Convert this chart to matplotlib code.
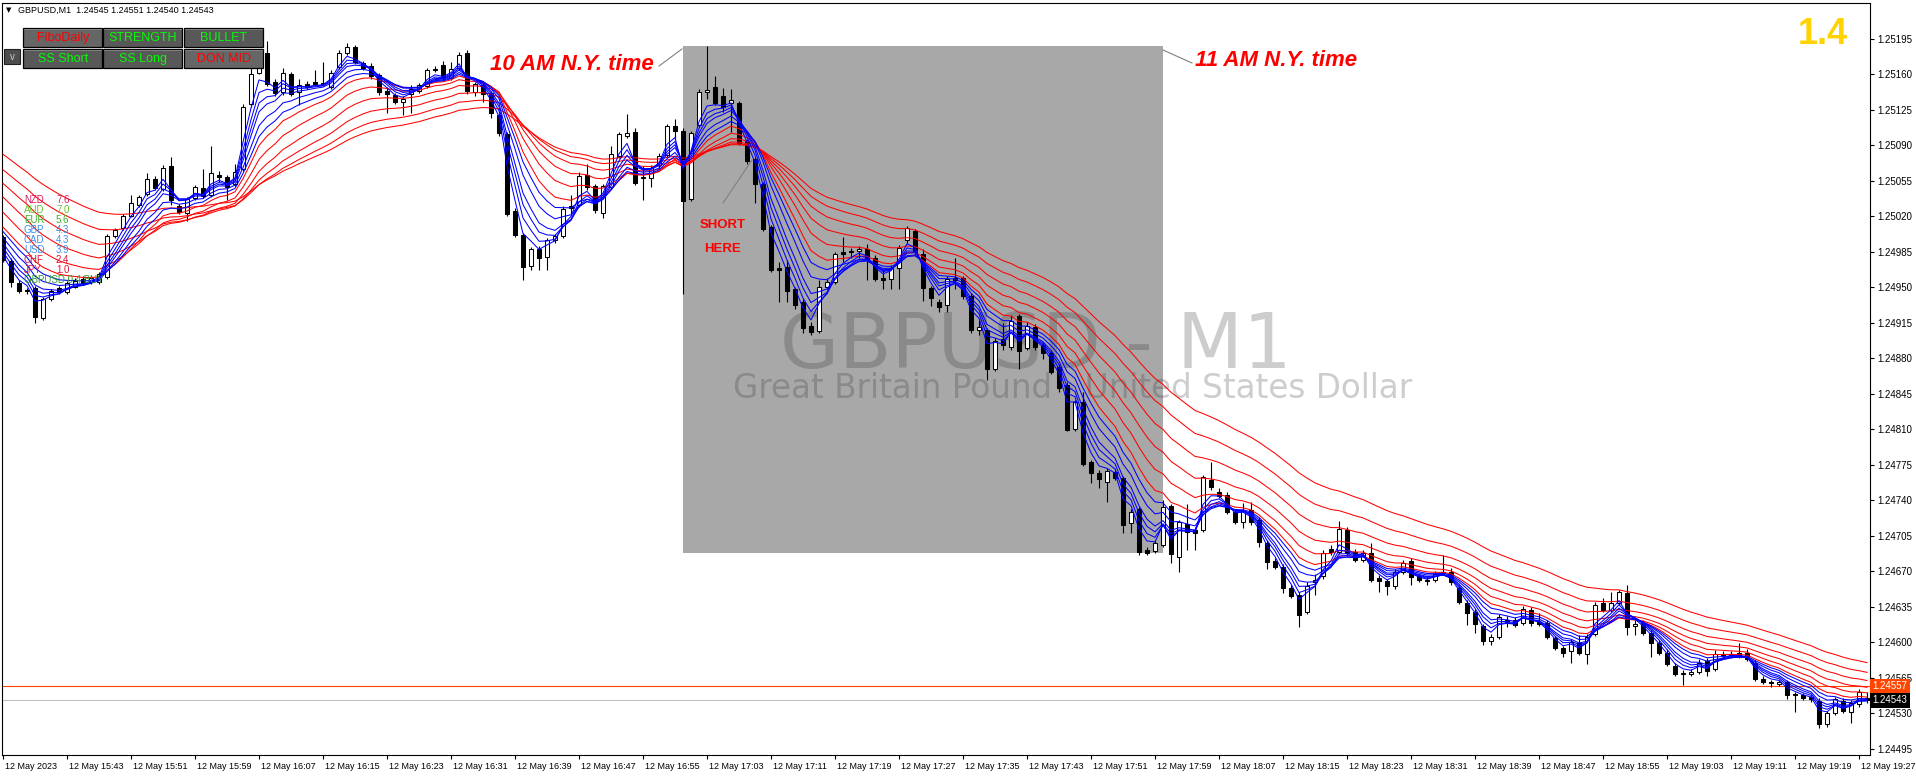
import numpy as np
import matplotlib.pyplot as plt
import matplotlib.transforms as mtransforms
from matplotlib.patches import Rectangle

# GBPUSD M1, 12 May 2023, bars from 15:35 to 19:28 (one per minute)
opens = [
    1.24999, 1.24976, 1.24954, 1.24947, 1.24949, 1.24920, 1.24938, 1.24949, 1.24945, 1.24950,
    1.24958, 1.24955, 1.24955, 1.24960, 1.25000, 1.25008, 1.25020, 1.25031, 1.25042, 1.25057,
    1.25047, 1.25069, 1.25030, 1.25023, 1.25038, 1.25048, 1.25041, 1.25061, 1.25059, 1.25052,
    1.25066, 1.25130, 1.25161, 1.25181, 1.25152, 1.25142, 1.25160, 1.25142, 1.25150, 1.25152,
    1.25151, 1.25147, 1.25167, 1.25181, 1.25187, 1.25171, 1.25168, 1.25159, 1.25143, 1.25139,
    1.25132, 1.25140, 1.25143, 1.25148, 1.25165, 1.25169, 1.25156, 1.25166, 1.25181, 1.25142,
    1.25149, 1.25141, 1.25120, 1.25101, 1.25025, 1.25001, 1.24971, 1.24988, 1.24980, 1.24996,
    1.25000, 1.25030, 1.25031, 1.25061, 1.25050, 1.25023, 1.25049, 1.25079, 1.25099, 1.25103,
    1.25059, 1.25058, 1.25070, 1.25080, 1.25109, 1.25104, 1.25037, 1.25110, 1.25142, 1.25147,
    1.25138, 1.25131, 1.25131, 1.25094, 1.25076, 1.25052, 1.25009, 1.24969, 1.24970, 1.24948,
    1.24935, 1.24912, 1.24907, 1.24950, 1.24955, 1.24985, 1.24986, 1.24986, 1.24988, 1.24979,
    1.24959, 1.24958, 1.24969, 1.24996, 1.25005, 1.24983, 1.24949, 1.24935, 1.24932, 1.24959,
    1.24959, 1.24941, 1.24908, 1.24908, 1.24869, 1.24899, 1.24891, 1.24922, 1.24890, 1.24911,
    1.24893, 1.24885, 1.24871, 1.24854, 1.24810, 1.24837, 1.24778, 1.24767, 1.24758, 1.24768,
    1.24762, 1.24718, 1.24731, 1.24691, 1.24690, 1.24696, 1.24734, 1.24684, 1.24717, 1.24711,
    1.24711, 1.24760, 1.24748, 1.24745, 1.24728, 1.24719, 1.24730, 1.24721, 1.24698, 1.24680,
    1.24674, 1.24654, 1.24647, 1.24630, 1.24659, 1.24665, 1.24692, 1.24689, 1.24711, 1.24689,
    1.24681, 1.24688, 1.24663, 1.24660, 1.24656, 1.24669, 1.24680, 1.24665, 1.24661, 1.24661,
    1.24668, 1.24669, 1.24654, 1.24639, 1.24630, 1.24616, 1.24601, 1.24605, 1.24622, 1.24622,
    1.24619, 1.24632, 1.24620, 1.24619, 1.24604, 1.24594, 1.24591, 1.24599, 1.24589, 1.24608,
    1.24639, 1.24632, 1.24639, 1.24649, 1.24616, 1.24619, 1.24609, 1.24599, 1.24590, 1.24577,
    1.24570, 1.24569, 1.24571, 1.24582, 1.24574, 1.24589, 1.24588, 1.24590, 1.24590, 1.24580,
    1.24564, 1.24561, 1.24559, 1.24561, 1.24549, 1.24548, 1.24546, 1.24542, 1.24520, 1.24530,
    1.24542, 1.24531, 1.24539, 1.24545,
]
highs = [
    1.25001, 1.24979, 1.24957, 1.24949, 1.24951, 1.24940, 1.24948, 1.24951, 1.24956, 1.24959,
    1.24961, 1.24962, 1.24965, 1.25002, 1.25008, 1.25022, 1.25041, 1.25041, 1.25062, 1.25060,
    1.25070, 1.25078, 1.25032, 1.25039, 1.25051, 1.25066, 1.25089, 1.25064, 1.25061, 1.25071,
    1.25130, 1.25167, 1.25184, 1.25193, 1.25155, 1.25166, 1.25162, 1.25155, 1.25153, 1.25164,
    1.25172, 1.25164, 1.25184, 1.25191, 1.25189, 1.25173, 1.25171, 1.25161, 1.25147, 1.25141,
    1.25138, 1.25149, 1.25151, 1.25166, 1.25168, 1.25173, 1.25172, 1.25182, 1.25184, 1.25152,
    1.25151, 1.25143, 1.25122, 1.25103, 1.25028, 1.25003, 1.24990, 1.24991, 1.24998, 1.25002,
    1.25030, 1.25041, 1.25063, 1.25071, 1.25052, 1.25052, 1.25089, 1.25103, 1.25121, 1.25107,
    1.25069, 1.25070, 1.25082, 1.25111, 1.25116, 1.25107, 1.25104, 1.25145, 1.25188, 1.25158,
    1.25146, 1.25145, 1.25133, 1.25096, 1.25078, 1.25054, 1.25011, 1.24975, 1.24977, 1.24950,
    1.24938, 1.24916, 1.24957, 1.24959, 1.24985, 1.24999, 1.24989, 1.24991, 1.24993, 1.24982,
    1.24967, 1.24972, 1.24992, 1.25010, 1.25007, 1.24988, 1.24951, 1.24938, 1.24961, 1.24979,
    1.24961, 1.24944, 1.24918, 1.24910, 1.24900, 1.24915, 1.24923, 1.24924, 1.24916, 1.24914,
    1.24896, 1.24888, 1.24873, 1.24857, 1.24839, 1.24847, 1.24780, 1.24770, 1.24772, 1.24771,
    1.24764, 1.24731, 1.24733, 1.24694, 1.24701, 1.24740, 1.24736, 1.24721, 1.24736, 1.24714,
    1.24765, 1.24778, 1.24752, 1.24748, 1.24731, 1.24737, 1.24738, 1.24724, 1.24701, 1.24683,
    1.24677, 1.24657, 1.24650, 1.24659, 1.24667, 1.24691, 1.24696, 1.24720, 1.24714, 1.24692,
    1.24691, 1.24698, 1.24666, 1.24662, 1.24672, 1.24681, 1.24683, 1.24667, 1.24664, 1.24670,
    1.24686, 1.24673, 1.24657, 1.24642, 1.24633, 1.24618, 1.24608, 1.24628, 1.24626, 1.24625,
    1.24636, 1.24635, 1.24629, 1.24622, 1.24606, 1.24596, 1.24603, 1.24607, 1.24608, 1.24640,
    1.24644, 1.24650, 1.24652, 1.24657, 1.24622, 1.24622, 1.24612, 1.24602, 1.24593, 1.24580,
    1.24573, 1.24574, 1.24584, 1.24585, 1.24592, 1.24591, 1.24591, 1.24599, 1.24593, 1.24583,
    1.24567, 1.24563, 1.24563, 1.24563, 1.24551, 1.24550, 1.24548, 1.24545, 1.24532, 1.24546,
    1.24545, 1.24543, 1.24554, 1.24551,
]
lows = [
    1.24975, 1.24950, 1.24944, 1.24943, 1.24915, 1.24918, 1.24936, 1.24943, 1.24943, 1.24949,
    1.24952, 1.24953, 1.24953, 1.24958, 1.24998, 1.25006, 1.25019, 1.25029, 1.25040, 1.25046,
    1.25045, 1.25031, 1.25022, 1.25015, 1.25036, 1.25038, 1.25039, 1.25054, 1.25036, 1.25050,
    1.25064, 1.25128, 1.25160, 1.25148, 1.25138, 1.25139, 1.25138, 1.25129, 1.25145, 1.25148,
    1.25148, 1.25145, 1.25165, 1.25179, 1.25170, 1.25164, 1.25155, 1.25139, 1.25122, 1.25130,
    1.25120, 1.25122, 1.25141, 1.25146, 1.25162, 1.25154, 1.25154, 1.25164, 1.25140, 1.25138,
    1.25132, 1.25117, 1.25099, 1.25020, 1.24999, 1.24957, 1.24967, 1.24967, 1.24967, 1.24994,
    1.24998, 1.25021, 1.25029, 1.25046, 1.25023, 1.25018, 1.25047, 1.25077, 1.25097, 1.25051,
    1.25036, 1.25049, 1.25066, 1.25078, 1.25095, 1.24943, 1.25035, 1.25108, 1.25135, 1.25129,
    1.25123, 1.25103, 1.25090, 1.25071, 1.25033, 1.25005, 1.24965, 1.24935, 1.24935, 1.24928,
    1.24905, 1.24903, 1.24905, 1.24948, 1.24953, 1.24975, 1.24979, 1.24979, 1.24957, 1.24956,
    1.24948, 1.24948, 1.24948, 1.24994, 1.24983, 1.24936, 1.24931, 1.24926, 1.24926, 1.24948,
    1.24938, 1.24905, 1.24903, 1.24859, 1.24867, 1.24888, 1.24888, 1.24869, 1.24888, 1.24888,
    1.24879, 1.24864, 1.24847, 1.24808, 1.24808, 1.24774, 1.24757, 1.24752, 1.24738, 1.24760,
    1.24708, 1.24708, 1.24686, 1.24686, 1.24688, 1.24694, 1.24678, 1.24669, 1.24691, 1.24691,
    1.24709, 1.24750, 1.24742, 1.24726, 1.24717, 1.24713, 1.24716, 1.24694, 1.24672, 1.24672,
    1.24649, 1.24644, 1.24615, 1.24628, 1.24647, 1.24662, 1.24686, 1.24687, 1.24685, 1.24679,
    1.24679, 1.24659, 1.24650, 1.24647, 1.24653, 1.24667, 1.24657, 1.24659, 1.24657, 1.24659,
    1.24667, 1.24657, 1.24638, 1.24617, 1.24609, 1.24597, 1.24597, 1.24603, 1.24615, 1.24615,
    1.24617, 1.24616, 1.24616, 1.24603, 1.24592, 1.24586, 1.24580, 1.24588, 1.24579, 1.24606,
    1.24630, 1.24630, 1.24637, 1.24607, 1.24607, 1.24607, 1.24586, 1.24588, 1.24577, 1.24567,
    1.24558, 1.24567, 1.24569, 1.24567, 1.24572, 1.24585, 1.24585, 1.24585, 1.24582, 1.24562,
    1.24559, 1.24556, 1.24557, 1.24544, 1.24531, 1.24543, 1.24541, 1.24516, 1.24517, 1.24528,
    1.24530, 1.24521, 1.24536, 1.24540,
]
closes = [
    1.24977, 1.24955, 1.24946, 1.24946, 1.24921, 1.24938, 1.24946, 1.24945, 1.24954, 1.24956,
    1.24954, 1.24959, 1.24963, 1.25000, 1.25006, 1.25020, 1.25033, 1.25039, 1.25057, 1.25048,
    1.25067, 1.25036, 1.25024, 1.25037, 1.25049, 1.25040, 1.25062, 1.25059, 1.25049, 1.25063,
    1.25128, 1.25160, 1.25182, 1.25150, 1.25141, 1.25161, 1.25140, 1.25149, 1.25147, 1.25150,
    1.25150, 1.25161, 1.25181, 1.25187, 1.25172, 1.25166, 1.25158, 1.25142, 1.25140, 1.25132,
    1.25135, 1.25145, 1.25149, 1.25164, 1.25164, 1.25156, 1.25165, 1.25179, 1.25143, 1.25150,
    1.25140, 1.25122, 1.25102, 1.25022, 1.25001, 1.24970, 1.24988, 1.24979, 1.24996, 1.25000,
    1.25027, 1.25028, 1.25060, 1.25049, 1.25026, 1.25050, 1.25081, 1.25101, 1.25102, 1.25053,
    1.25058, 1.25067, 1.25079, 1.25109, 1.25104, 1.25035, 1.25102, 1.25142, 1.25144, 1.25131,
    1.25128, 1.25134, 1.25092, 1.25074, 1.25052, 1.25007, 1.24967, 1.24967, 1.24946, 1.24932,
    1.24910, 1.24906, 1.24950, 1.24955, 1.24983, 1.24983, 1.24985, 1.24988, 1.24978, 1.24958,
    1.24957, 1.24969, 1.24989, 1.25008, 1.24985, 1.24949, 1.24939, 1.24930, 1.24958, 1.24957,
    1.24941, 1.24908, 1.24911, 1.24869, 1.24897, 1.24893, 1.24917, 1.24887, 1.24912, 1.24891,
    1.24885, 1.24866, 1.24851, 1.24809, 1.24837, 1.24776, 1.24767, 1.24761, 1.24769, 1.24762,
    1.24716, 1.24728, 1.24689, 1.24688, 1.24698, 1.24733, 1.24687, 1.24719, 1.24709, 1.24708,
    1.24763, 1.24753, 1.24744, 1.24728, 1.24719, 1.24729, 1.24719, 1.24699, 1.24679, 1.24674,
    1.24654, 1.24646, 1.24627, 1.24656, 1.24661, 1.24688, 1.24689, 1.24712, 1.24688, 1.24681,
    1.24688, 1.24661, 1.24660, 1.24656, 1.24669, 1.24678, 1.24664, 1.24661, 1.24660, 1.24667,
    1.24669, 1.24659, 1.24640, 1.24629, 1.24618, 1.24601, 1.24605, 1.24625, 1.24620, 1.24617,
    1.24633, 1.24619, 1.24618, 1.24605, 1.24594, 1.24590, 1.24600, 1.24590, 1.24605, 1.24637,
    1.24632, 1.24639, 1.24650, 1.24615, 1.24618, 1.24609, 1.24599, 1.24590, 1.24579, 1.24569,
    1.24569, 1.24571, 1.24580, 1.24572, 1.24589, 1.24588, 1.24589, 1.24587, 1.24584, 1.24564,
    1.24561, 1.24560, 1.24561, 1.24548, 1.24548, 1.24545, 1.24544, 1.24520, 1.24530, 1.24544,
    1.24532, 1.24540, 1.24551, 1.24543,
]

# moving average ribbons (periods and their values just before the first bar)
blue_periods = [3, 4, 5, 6, 8, 10]
blue_start = [1.24985, 1.24990, 1.24995, 1.25000, 1.25005, 1.25011]
red_periods = [12, 16, 21, 27, 34, 42]
red_start = [1.25015, 1.25030, 1.25045, 1.25058, 1.25071, 1.25086]

ask_price = 1.24557
bid_price = 1.24543

# highlighted session box: 17:00 .. 18:00 (bar 85 .. bar 145)
box_bars = [85, 145]
box_prices = [1.24688, 1.25188]

y_ticks = [1.24495, 1.24530, 1.24565, 1.24600, 1.24635, 1.24670, 1.24705, 1.24740, 1.24775,
           1.24810, 1.24845, 1.24880, 1.24915, 1.24950, 1.24985, 1.25020, 1.25055, 1.25090,
           1.25125, 1.25160, 1.25195]
x_tick_bars = list(range(0, 233, 8))
x_tick_labels = ['12 May 2023', '12 May 15:43', '12 May 15:51', '12 May 15:59', '12 May 16:07',
                 '12 May 16:15', '12 May 16:23', '12 May 16:31', '12 May 16:39', '12 May 16:47',
                 '12 May 16:55', '12 May 17:03', '12 May 17:11', '12 May 17:19', '12 May 17:27',
                 '12 May 17:35', '12 May 17:43', '12 May 17:51', '12 May 17:59', '12 May 18:07',
                 '12 May 18:15', '12 May 18:23', '12 May 18:31', '12 May 18:39', '12 May 18:47',
                 '12 May 18:55', '12 May 19:03', '12 May 19:11', '12 May 19:19', '12 May 19:27']

strength_names = ['NZD', 'AUD', 'EUR', 'GBP', 'CAD', 'USD', 'CHF', 'JPY']
strength_values = [7.6, 7.0, 5.6, 4.3, 4.3, 3.9, 2.4, 1.0]
strength_colors = ['#D81B60', '#66C22E', '#3FAF2A', '#3D8EE8', '#3D8EE8', '#3D8EE8', '#DC143C', '#DC143C']

buttons = [('FiboDaily', 'red', '#666666'), ('STRENGTH', 'lime', '#585858'), ('BULLET', 'lime', '#585858'),
           ('SS Short', 'lime', '#585858'), ('SS Long', 'lime', '#585858'), ('DON MID', 'red', '#666666')]

W, H = 1916, 776
L, R, T, B = 2, 1870, 3, 755

plt.rcParams['font.family'] = ['Liberation Sans', 'DejaVu Sans']

fig = plt.figure(figsize=(W / 100, H / 100), dpi=100, facecolor='white')
ax = fig.add_axes([L / W, 1 - B / H, (R - L) / W, (B - T) / H])

n = len(closes)
xs = np.arange(n)
o = np.array(opens)
c = np.array(closes)
ax.set_xlim(-0.125, 233.375)
ax.set_ylim(1.24489, 1.25230)


def px(x, y):
    return (x - L) / (R - L), (B - y) / (B - T)


# watermark, light on white, darker inside the grey box
wm = [('GBPUSD - M1', (1036, 347), 55),
      ('Great Britain Pound - United States Dollar', (1073, 389), 23.5)]
for txt, xy, fs in wm:
    ax.text(*px(*xy), txt, transform=ax.transAxes, ha='center', va='center',
            fontsize=fs, family='DejaVu Sans', color='#CDCDCD', zorder=0.5)

box = Rectangle((box_bars[0], box_prices[0]), box_bars[1] - box_bars[0], box_prices[1] - box_prices[0],
                facecolor='#A8A8A8', edgecolor='none', zorder=1)
ax.add_patch(box)
for txt, xy, fs in wm:
    t = ax.text(*px(*xy), txt, transform=ax.transAxes, ha='center', va='center',
                fontsize=fs, family='DejaVu Sans', color='#8A8A8A', zorder=1.5, clip_on=True)
    t.set_clip_path(box)

ax.axhline(ask_price, color='#FF4500', lw=0.8, zorder=2)
ax.axhline(bid_price, color='#C0C0C0', lw=0.8, zorder=2)

# candles
ax.vlines(xs, lows, highs, color='black', lw=0.8, zorder=3)
ax.bar(xs, np.abs(c - o), bottom=np.minimum(o, c), width=0.5,
       color=np.where(c >= o, 'white', 'black'), edgecolor='black', linewidth=0.75, zorder=4)


def ema(values, period, start):
    a = 2.0 / (period + 1)
    out = []
    v = start
    for val in values:
        v = v + a * (val - v)
        out.append(v)
    return out


for p, s in zip(red_periods, red_start):
    ax.plot(xs, ema(closes, p, s), color='#FF0000', lw=0.75, zorder=5)
for p, s in zip(blue_periods, blue_start):
    ax.plot(xs, ema(closes, p, s), color='#0000FF', lw=0.75, zorder=5)

# axes styling
for sp in ax.spines.values():
    sp.set_linewidth(0.8)
ax.yaxis.tick_right()
ax.set_yticks(y_ticks)
ax.set_yticklabels([f'{v:.5f}' for v in y_ticks])
ax.set_xticks(x_tick_bars)
ax.set_xticklabels(x_tick_labels)
ax.tick_params(axis='both', length=3, width=0.8, labelsize=6.5, colors='black')
ax.tick_params(axis='y', pad=2.5, labelsize=7)
ax.tick_params(axis='x', pad=2)
shift = mtransforms.ScaledTranslation(1.5 / 72, 0, fig.dpi_scale_trans)
for lbl in ax.get_xticklabels():
    lbl.set_horizontalalignment('left')
    lbl.set_transform(lbl.get_transform() + shift)

# current price labels on the right scale
blend = mtransforms.blended_transform_factory(ax.transAxes, ax.transData)
ax.text(1.0012, ask_price, '1.24557', transform=blend, ha='left', va='center', fontsize=7,
        color='white', clip_on=False, zorder=10,
        bbox=dict(boxstyle='square,pad=0.25', fc='#FF4500', ec='none'))
ax.text(1.0012, bid_price, '1.24543', transform=blend, ha='left', va='center', fontsize=7,
        color='white', clip_on=False, zorder=10,
        bbox=dict(boxstyle='square,pad=0.25', fc='black', ec='none'))

# overlay in pixel coordinates for the terminal widgets and notes
ov = fig.add_axes([0, 0, 1, 1], zorder=10)
ov.set_xlim(0, W)
ov.set_ylim(H, 0)
ov.axis('off')
ov.patch.set_alpha(0)

ov.text(6, 10, '\u25BC', fontsize=5, family='DejaVu Sans', va='center', ha='left')
ov.text(18, 10, 'GBPUSD,M1  1.24545 1.24551 1.24540 1.24543', fontsize=6.5, va='center', ha='left')

bx = [23, 103, 184]
by = [28, 49]
for k, (label, col, bg) in enumerate(buttons):
    x0 = bx[k % 3]
    y0 = by[k // 3]
    ov.add_patch(Rectangle((x0, y0), 79, 19, facecolor=bg, edgecolor='black', lw=0.9))
    ov.plot([x0 + 1, x0 + 78], [y0 + 1, y0 + 1], color='#8A8A8A', lw=0.6)
    ov.text(x0 + 40, y0 + 10, label, color=col, fontsize=9, ha='center', va='center')
ov.add_patch(Rectangle((4, 49), 16, 15, facecolor='#4E4E4E', edgecolor='#222222', lw=0.8))
ov.text(12, 56.5, 'v', color='#CCCCCC', fontsize=7, ha='center', va='center')

for k, (nm, val, col) in enumerate(zip(strength_names, strength_values, strength_colors)):
    ov.text(24, 200 + 10 * k, nm, color=col, fontsize=7, va='center', ha='left')
    ov.text(56, 200 + 10 * k, f'{val:.1f}', color=col, fontsize=7, va='center', ha='left')
ov.text(24, 280, 'GBPUSD 0.4 BUY', color='#2F9E2F', fontsize=7, va='center', ha='left')

ov.text(1848, 35, '1.4', color='#FFD200', fontsize=26, fontweight='bold', ha='right', va='center')

ov.text(490, 64, '10 AM N.Y. time', color='red', fontsize=16, fontweight='bold', style='italic',
        ha='left', va='center')
ov.plot([659, 682], [66, 49], color='#808080', lw=0.8)
ov.text(1195, 61, '11 AM N.Y. time', color='red', fontsize=16, fontweight='bold', style='italic',
        ha='left', va='center')
ov.plot([1163, 1192], [50, 63], color='#808080', lw=0.8)
ov.text(723, 225, 'SHORT', color='red', fontsize=9.5, fontweight='bold', ha='center', va='center')
ov.text(723, 249, 'HERE', color='red', fontsize=9.5, fontweight='bold', ha='center', va='center')
ov.plot([723, 752], [203, 160], color='#808080', lw=0.8)

fig.savefig('out.png', dpi=100, facecolor='white')
